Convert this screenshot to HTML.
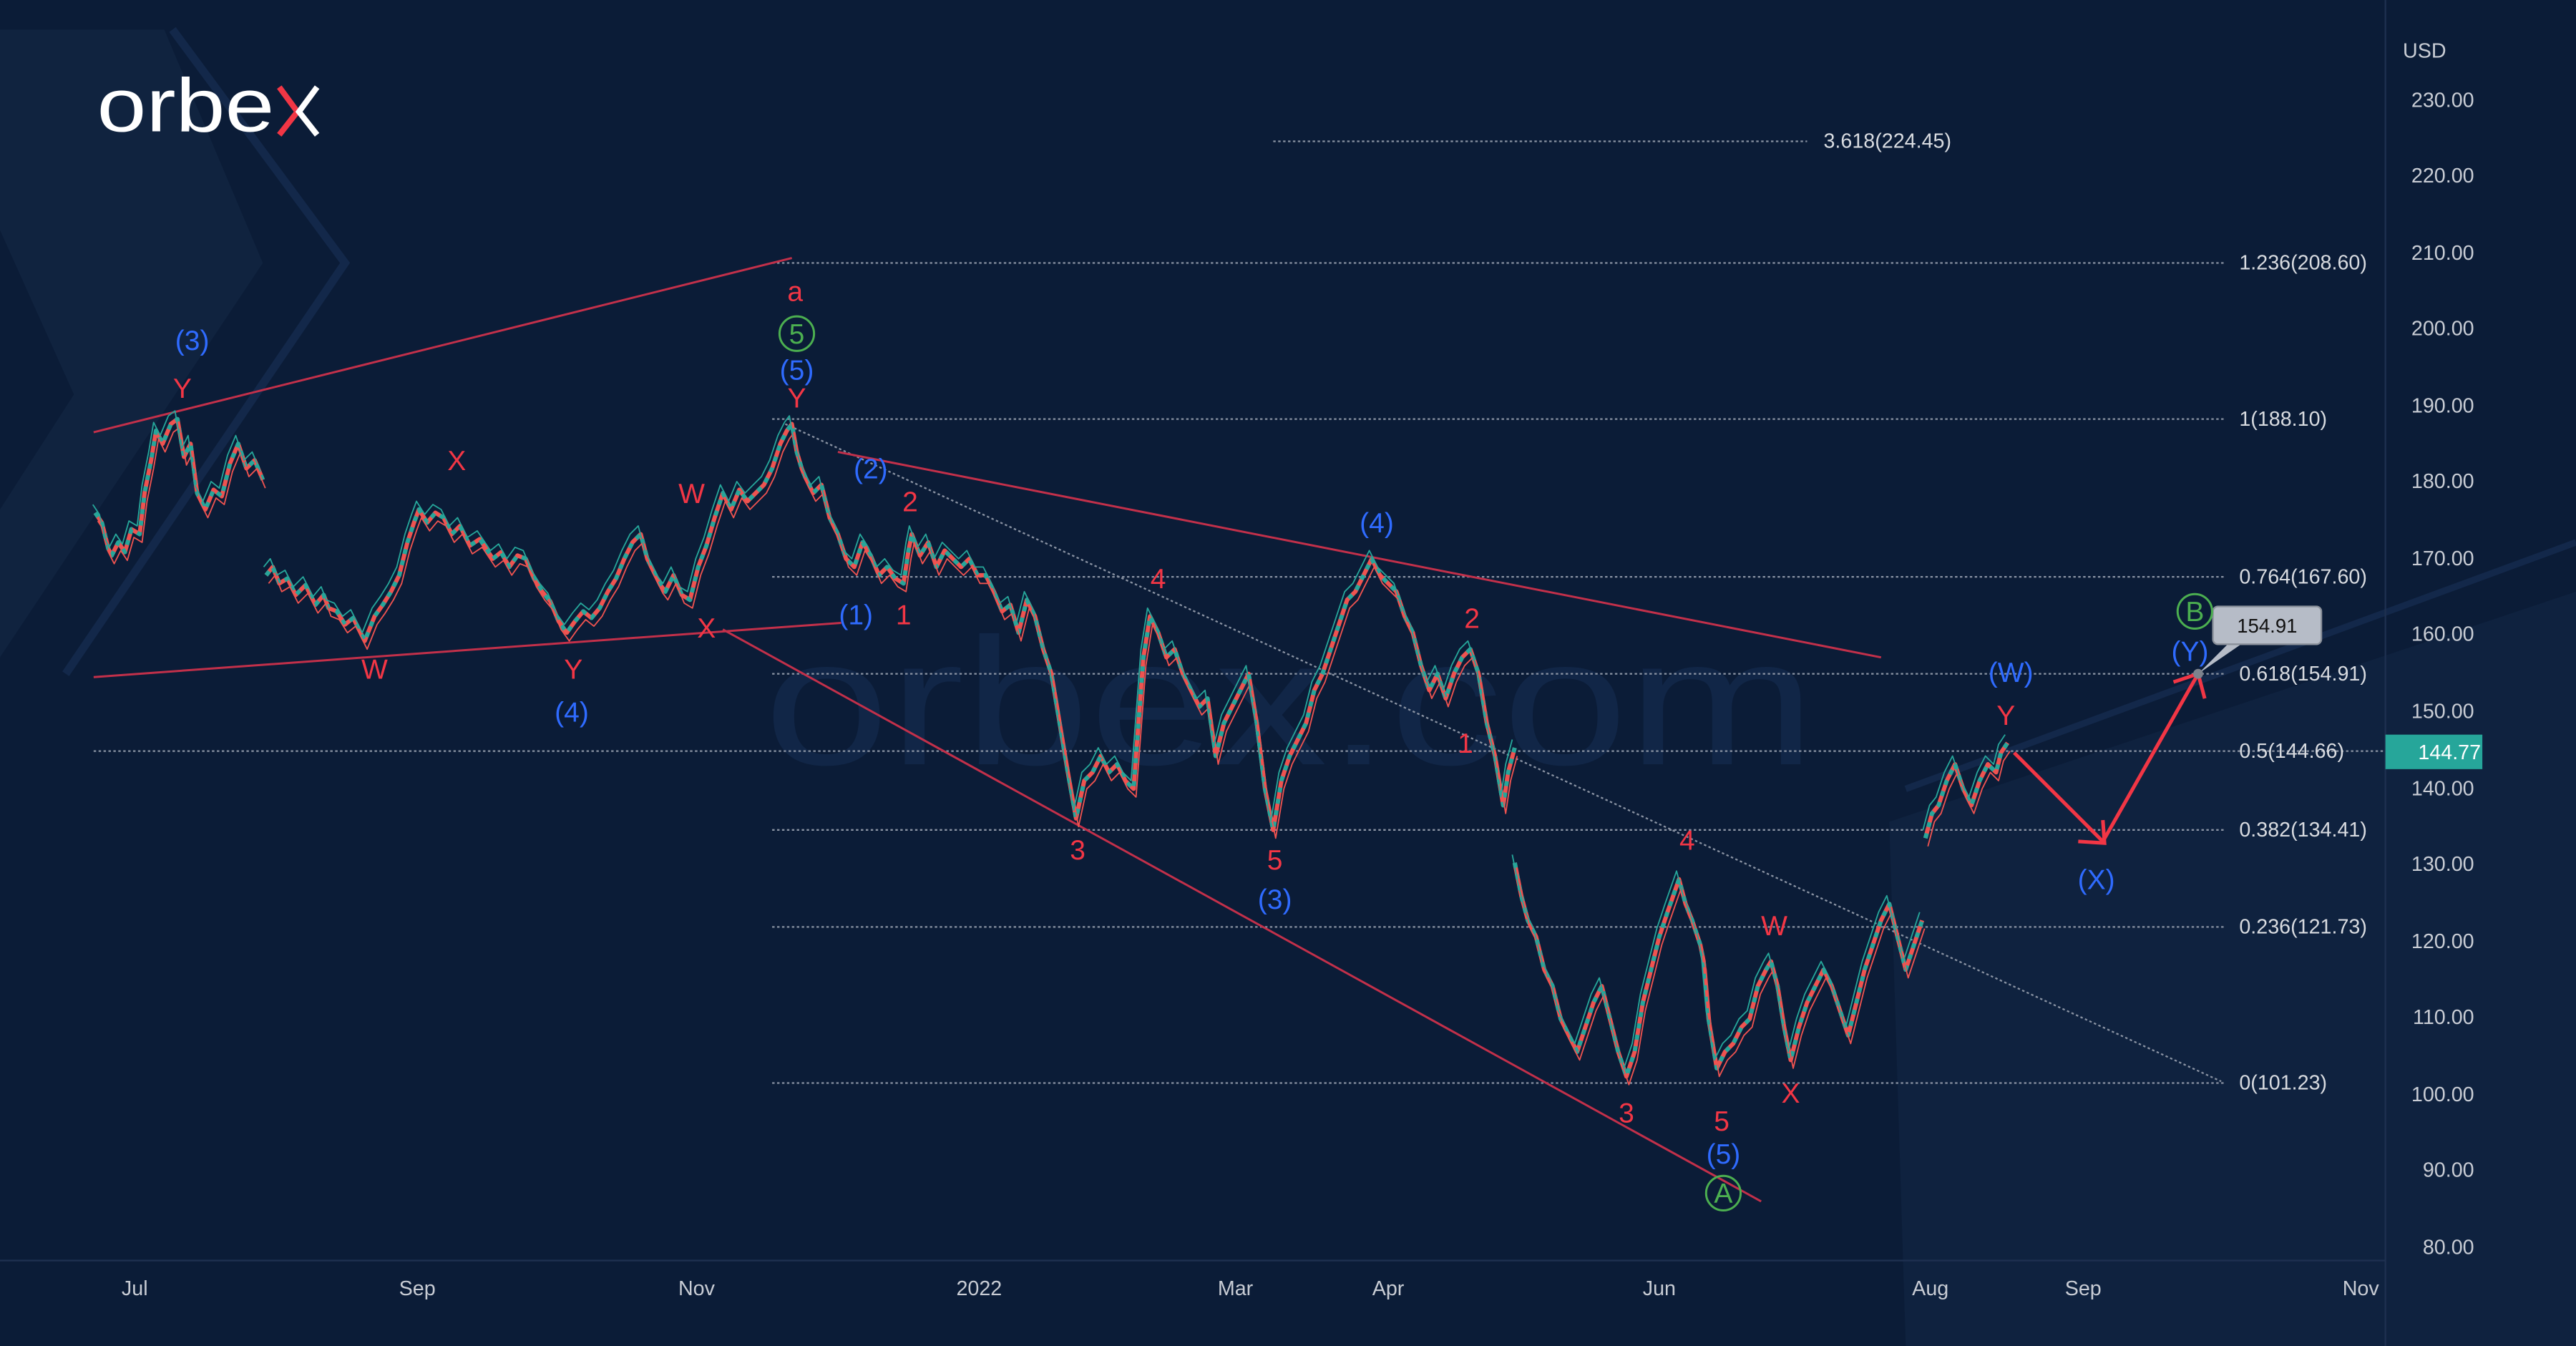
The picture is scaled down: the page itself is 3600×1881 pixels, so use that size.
<!DOCTYPE html>
<html><head><meta charset="utf-8"><style>
html,body{margin:0;padding:0;background:#0b1c37;}
svg{display:block;font-family:"Liberation Sans",sans-serif;}
</style></head><body>
<svg width="3600" height="1881" viewBox="0 0 1568 819" preserveAspectRatio="none" xmlns="http://www.w3.org/2000/svg">
<rect width="1568" height="819" fill="#0b1c37"/>
<polygon points="0,18 100,18 160,160 0,400" fill="#10233f"/>
<polygon points="0,140 45,240 0,310" fill="#0b1c37"/>
<polyline points="105,18 210,160 40,410" fill="none" stroke="#13284a" stroke-width="5"/>
<polygon points="1150,500 1568,360 1568,819 1160,819" fill="#0f223f"/>
<line x1="1160" y1="480" x2="1568" y2="330" stroke="#13284a" stroke-width="4"/>
<text x="465" y="465" font-size="110" fill="#112647" textLength="640" lengthAdjust="spacingAndGlyphs">orbex.com</text>
<text x="59" y="80" font-size="46" fill="#ffffff" textLength="108" lengthAdjust="spacingAndGlyphs">orbe</text>
<polyline points="170,53 181,68 170,82" fill="none" stroke="#f23645" stroke-width="3.5"/>
<polyline points="193,53 182,68 193,82" fill="none" stroke="#ffffff" stroke-width="3.5"/>
<line x1="1452" y1="0" x2="1452" y2="819" stroke="#1e3050" stroke-width="1"/>
<line x1="0" y1="767" x2="1452" y2="767" stroke="#1e3050" stroke-width="1"/>
<g font-size="12.5" fill="#c8ccd4" text-anchor="end">
<text x="1489" y="35">USD</text>
<text x="1506" y="65">230.00</text><text x="1506" y="111">220.00</text><text x="1506" y="158">210.00</text>
<text x="1506" y="204">200.00</text><text x="1506" y="251">190.00</text><text x="1506" y="297">180.00</text>
<text x="1506" y="344">170.00</text><text x="1506" y="390">160.00</text><text x="1506" y="437">150.00</text>
<text x="1506" y="484">140.00</text><text x="1506" y="530">130.00</text><text x="1506" y="577">120.00</text>
<text x="1506" y="623">110.00</text><text x="1506" y="670">100.00</text><text x="1506" y="716">90.00</text>
<text x="1506" y="763">80.00</text>
</g>
<g font-size="12.5" fill="#c8ccd4" text-anchor="middle">
<text x="82" y="788">Jul</text><text x="254" y="788">Sep</text><text x="424" y="788">Nov</text>
<text x="596" y="788">2022</text><text x="752" y="788">Mar</text><text x="845" y="788">Apr</text>
<text x="1010" y="788">Jun</text><text x="1175" y="788">Aug</text><text x="1268" y="788">Sep</text><text x="1437" y="788">Nov</text>
</g>
<g stroke="#8a93a3" stroke-width="1" stroke-dasharray="1.5,1.5" fill="none">
<line x1="775" y1="86" x2="1100" y2="86"/>
<line x1="470" y1="160" x2="1355" y2="160"/>
<line x1="470" y1="255" x2="1355" y2="255"/>
<line x1="470" y1="351" x2="1355" y2="351"/>
<line x1="470" y1="410" x2="1355" y2="410"/>
<line x1="57" y1="457" x2="1452" y2="457"/>
<line x1="470" y1="505" x2="1355" y2="505"/>
<line x1="470" y1="564" x2="1355" y2="564"/>
<line x1="470" y1="659" x2="1355" y2="659"/>
<line x1="478" y1="258" x2="1352" y2="658"/>
</g>
<g font-size="12.5" fill="#d8dbe0">
<text x="1110" y="90">3.618(224.45)</text>
<text x="1363" y="164">1.236(208.60)</text>
<text x="1363" y="259">1(188.10)</text>
<text x="1363" y="355">0.764(167.60)</text>
<text x="1363" y="414">0.618(154.91)</text>
<text x="1363" y="461">0.5(144.66)</text>
<text x="1363" y="509">0.382(134.41)</text>
<text x="1363" y="568">0.236(121.73)</text>
<text x="1363" y="663">0(101.23)</text>
</g>
<g stroke="#c2304a" stroke-width="1.3">
<line x1="57" y1="263" x2="482" y2="157"/>
<line x1="57" y1="412" x2="512" y2="379"/>
<line x1="440" y1="383" x2="1072" y2="731"/>
<line x1="510" y1="275" x2="1145" y2="400"/>
</g>
<g fill="none" stroke-linejoin="round">
<g stroke="#ef5350" stroke-width="2.6">
<polyline id="p1" points="58,312 62,318 66,334 68,338 72,330 76,336 80,322 85,325 88,300 92,280 95,262 99,270 104,258 108,255 112,278 116,270 120,300 125,310 130,298 135,302 140,282 145,270 150,285 155,280 160,292"/>
<polyline id="p2" points="162,350 166,345 170,355 175,352 180,362 186,356 192,368 197,362 200,370 205,372 210,380 215,376 222,390 228,375 233,368 238,360 243,350 248,330 252,318 255,310 260,318 265,312 270,315 275,325 280,320 286,332 292,328 300,340 305,336 310,345 315,338 320,340 325,352 330,360 335,366 340,378 345,385 350,378 355,372 360,376 365,370 370,360 375,352 380,340 385,330 390,325 394,340 398,348 402,356 405,360 410,350 415,362 420,365 425,345 430,332 435,315 440,300 445,310 450,298 455,305 460,300 465,295 470,285 475,270 479,262 482,258 485,275 488,285 490,290 495,300 500,295 505,315 510,325 515,340 520,345 525,330 530,338 535,350 540,345 545,352 550,355 553,335 555,325 560,338 565,330 570,345 575,335 580,340 585,345 590,340 595,350 600,350 605,360 610,372 615,368 620,385 625,365 630,375 635,395 640,410 645,440 650,470 655,498 660,475 665,470 670,460 675,470 680,465 685,475 690,480 693,440 696,400 700,375 705,385 710,400 715,395 720,410 725,420 730,430 735,425 740,460 745,440 750,430 755,420 760,410 765,440 770,480 775,505 780,475 785,460 790,450 795,440 800,420 805,410 810,395 815,380 820,365 825,360 830,350 835,340 840,350 845,355 850,360 855,375 860,385 865,405 870,420 875,410 880,425 885,410 890,400 895,395 900,410 905,440 910,460 915,490 918,470 922,455"/>
<polyline id="p3" points="922,525 926,545 930,560 935,570 940,590 945,600 950,620 955,630 960,640 965,625 970,610 975,600 980,620 985,640 990,655 995,640 1000,610 1005,590 1010,570 1015,555 1022,535 1026,550 1030,560 1035,575 1037,585 1040,620 1045,650 1050,640 1055,635 1060,625 1065,620 1070,600 1075,590 1078,585 1082,600 1086,625 1090,645 1095,625 1100,610 1105,600 1110,590 1115,600 1120,615 1125,630 1130,610 1135,590 1140,575 1145,560 1150,550 1155,570 1160,590 1165,575 1170,560"/>
<polyline id="p4" points="1172,510 1176,495 1180,490 1185,475 1190,465 1195,480 1200,490 1205,475 1210,465 1215,470 1218,458 1222,452"/>
</g>
<g stroke="#26a69a" stroke-width="2.6" stroke-dasharray="3,4">
<use href="#p1"/><use href="#p2"/><use href="#p3"/><use href="#p4"/>
</g>
<g stroke="#ef5350" stroke-width="0.8" transform="translate(1.5,5)">
<use href="#p1"/><use href="#p2"/><use href="#p3"/><use href="#p4"/>
</g>
<g stroke="#26a69a" stroke-width="0.8" transform="translate(-1.5,-5)">
<use href="#p1"/><use href="#p2"/><use href="#p3"/><use href="#p4"/>
</g>
</g>
<g stroke="#f23645" stroke-width="2.2" fill="none">
<line x1="1226" y1="458" x2="1280" y2="512"/>
<polyline points="1265,512 1281,513 1280,499"/>
<line x1="1280" y1="512" x2="1338" y2="410"/>
<polyline points="1323,415 1338,410 1342,425"/>
</g>
<polygon points="1338,410 1360,388 1370,388" fill="#b6bcc7"/>
<rect x="1347" y="369" width="66" height="23" rx="3" fill="#b6bcc7" stroke="#8a909a"/>
<text x="1380" y="385" font-size="12" fill="#111" text-anchor="middle">154.91</text>
<circle cx="1338" cy="410" r="3" fill="#7d838d"/>
<rect x="1452" y="447" width="59" height="21" fill="#26a69a"/>
<text x="1491" y="462" font-size="12.5" fill="#fff" text-anchor="middle">144.77</text>
<g font-size="17" text-anchor="middle">
<g fill="#f23645">
<text x="111" y="242">Y</text><text x="278" y="286">X</text><text x="228" y="413">W</text>
<text x="349" y="413">Y</text><text x="421" y="306">W</text><text x="430" y="388">X</text>
<text x="484" y="183">a</text><text x="485" y="248">Y</text><text x="554" y="311">2</text>
<text x="550" y="380">1</text><text x="705" y="358">4</text><text x="656" y="523">3</text>
<text x="776" y="529">5</text><text x="896" y="382">2</text><text x="892" y="458">1</text>
<text x="990" y="683">3</text><text x="1027" y="517">4</text><text x="1048" y="688">5</text>
<text x="1080" y="569">W</text><text x="1090" y="671">X</text><text x="1221" y="441">Y</text>
</g>
<g fill="#2f6bff">
<text x="117" y="213">(3)</text><text x="348" y="439">(4)</text><text x="485" y="231">(5)</text>
<text x="530" y="291">(2)</text><text x="521" y="380">(1)</text><text x="776" y="553">(3)</text>
<text x="838" y="324">(4)</text><text x="1049" y="708">(5)</text><text x="1224" y="415">(W)</text>
<text x="1276" y="541">(X)</text><text x="1333" y="402">(Y)</text>
</g>
<g fill="#4caf50">
<circle cx="485" cy="203" r="10.5" fill="none" stroke="#4caf50" stroke-width="1.3"/><text x="485" y="209">5</text>
<circle cx="1049" cy="726" r="10.5" fill="none" stroke="#4caf50" stroke-width="1.3"/><text x="1049" y="732">A</text>
<circle cx="1336" cy="372" r="10.5" fill="none" stroke="#4caf50" stroke-width="1.3"/><text x="1336" y="378">B</text>
</g>
</g>
</svg>
</body></html>
